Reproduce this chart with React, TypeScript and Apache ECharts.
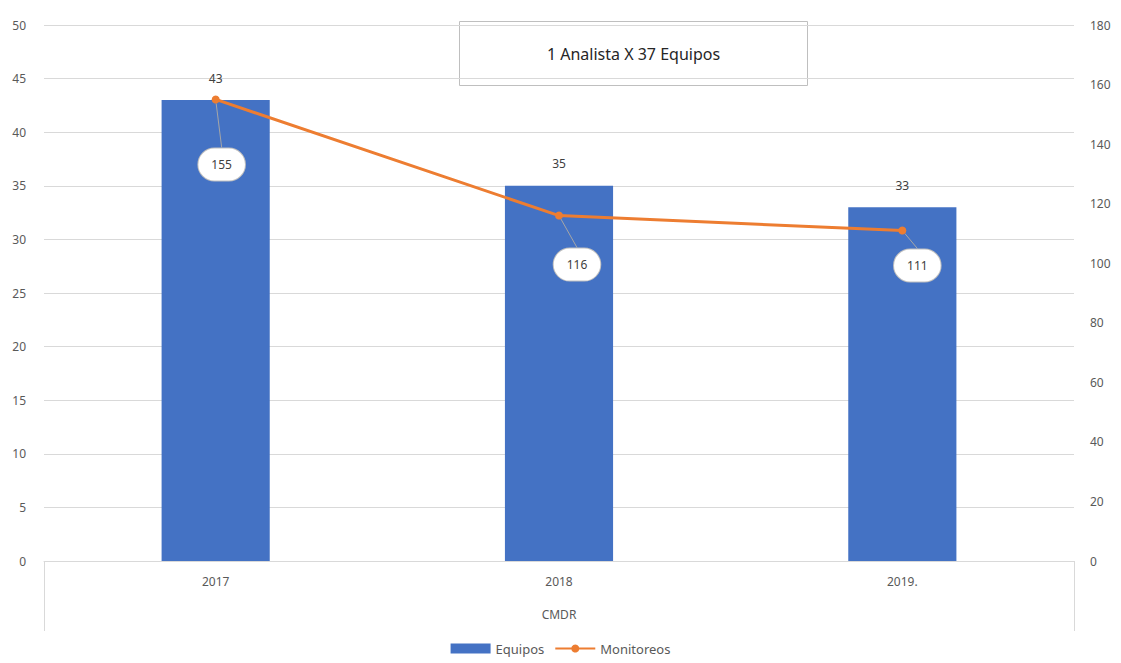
import React, { useEffect, useRef } from "react";
import * as echarts from "echarts";

const categories = ["2017", "2018", "2019."];
const equipos = [43, 35, 33];
const monitoreos = [155, 116, 111];
const labelShift = [
  [6, 65],
  [18, 49],
  [15, 35],
];
const titleText = "1 Analista X 37 Equipos";
const groupLabel = "CMDR";

const FONT = "Noto Sans";

export default function App() {
  const ref = useRef<HTMLDivElement>(null);
  useEffect(() => {
    const chart = echarts.init(ref.current!, null, { renderer: "svg" });
    chart.setOption({
      animation: false,
      backgroundColor: "#ffffff",
      textStyle: { fontFamily: FONT },
      grid: { left: 44, right: 47, top: 25, bottom: 102 },
      legend: {
        bottom: 3,
        left: "center",
        itemGap: 10,
        itemWidth: 40,
        itemHeight: 10,
        textStyle: { color: "#595959", fontSize: 13, fontFamily: FONT },
        data: [
          { name: "Equipos", icon: "rect" },
          { name: "Monitoreos" },
        ],
      },
      xAxis: {
        type: "category",
        data: categories,
        name: groupLabel,
        nameLocation: "middle",
        nameGap: 47,
        nameTextStyle: { color: "#595959", fontSize: 12, fontFamily: FONT },
        axisLine: { lineStyle: { color: "#d9d9d9" } },
        axisTick: { show: false },
        axisLabel: { color: "#595959", fontSize: 12, margin: 14 },
      },
      yAxis: [
        {
          type: "value",
          min: 0,
          max: 50,
          interval: 5,
          axisLine: { show: false },
          axisTick: { show: false },
          axisLabel: { color: "#595959", fontSize: 12, margin: 18 },
          splitLine: { lineStyle: { color: "#d9d9d9" } },
        },
        {
          type: "value",
          min: 0,
          max: 180,
          interval: 20,
          axisLine: { show: false },
          axisTick: { show: false },
          axisLabel: { color: "#595959", fontSize: 12, margin: 16 },
          splitLine: { show: false },
        },
      ],
      series: [
        {
          name: "Equipos",
          type: "bar",
          data: equipos,
          barWidth: "31.5%",
          itemStyle: { color: "#4472C4" },
          label: {
            show: true,
            position: "top",
            color: "#404040",
            fontSize: 12,
            distance: 16,
          },
        },
        {
          name: "Monitoreos",
          type: "line",
          yAxisIndex: 1,
          data: monitoreos,
          symbol: "circle",
          symbolSize: 8,
          lineStyle: { color: "#ED7D31", width: 3 },
          itemStyle: { color: "#ED7D31" },
          label: {
            show: true,
            position: "inside",
            color: "#404040",
            fontSize: 12,
            backgroundColor: "#ffffff",
            borderColor: "#bfbfbf",
            borderWidth: 1,
            borderRadius: 20,
            padding: [10, 13],
          },
          labelLine: {
            show: true,
            lineStyle: { color: "#a6a6a6", width: 1 },
          },
          labelLayout: (p: any) => ({
            dx: labelShift[p.dataIndex][0],
            dy: labelShift[p.dataIndex][1],
          }),
          z: 5,
        },
      ],
      graphic: [
        {
          type: "line",
          shape: { x1: 44.5, y1: 561, x2: 44.5, y2: 631 },
          style: { stroke: "#d9d9d9", lineWidth: 1 },
          silent: true,
        },
        {
          type: "line",
          shape: { x1: 1074.5, y1: 561, x2: 1074.5, y2: 631 },
          style: { stroke: "#d9d9d9", lineWidth: 1 },
          silent: true,
        },
        {
          type: "group",
          left: 459,
          top: 21,
          z: 100,
          children: [
            {
              type: "rect",
              shape: { x: 0, y: 0, width: 348, height: 64 },
              style: { fill: "#ffffff", stroke: "#bfbfbf", lineWidth: 1 },
            },
            {
              type: "text",
              x: 174,
              y: 32,
              style: {
                text: titleText,
                fill: "#262626",
                fontSize: 16,
                fontFamily: FONT,
                align: "center",
                verticalAlign: "middle",
              },
            },
          ],
        },
      ],
    });
    return () => chart.dispose();
  }, []);
  return (
    <div
      ref={ref}
      style={{ position: "fixed", left: 0, top: 0, width: 1121, height: 663 }}
    />
  );
}
